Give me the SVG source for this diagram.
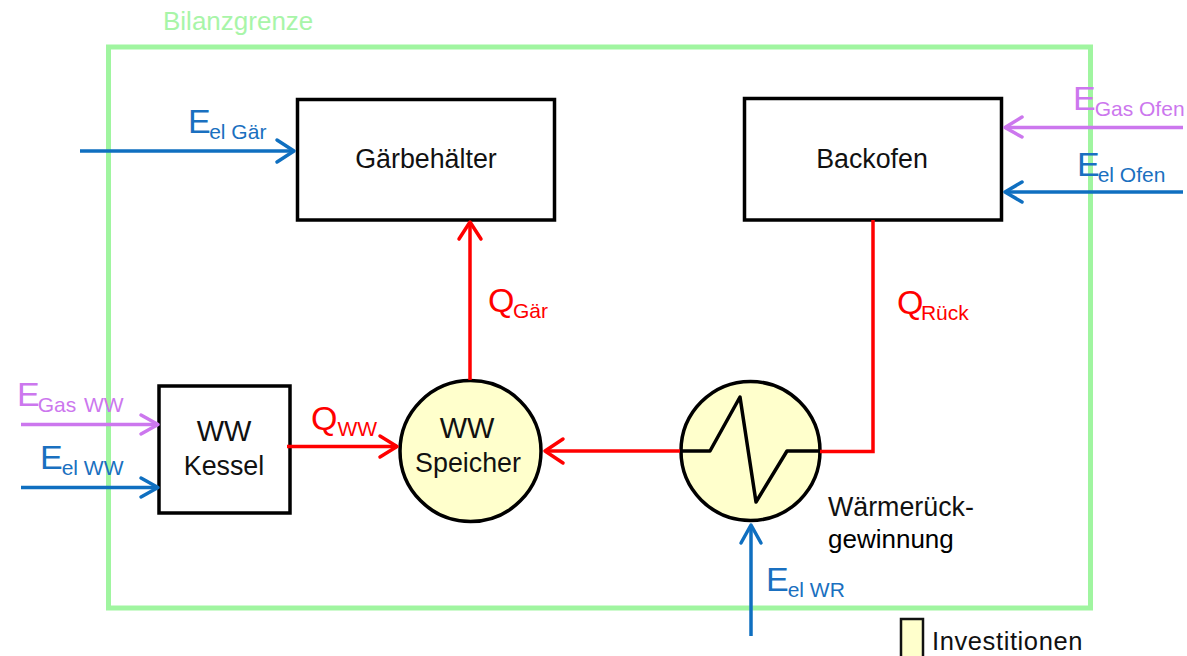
<svg xmlns="http://www.w3.org/2000/svg" width="1187" height="656" viewBox="0 0 1187 656">
<style>
text{font-family:"Liberation Sans",Arial,sans-serif}
.box{fill:#fff;stroke:#000;stroke-width:3.5}
.circ{fill:#ffffcc;stroke:#000;stroke-width:3.5}
.t{font-size:26.8px;fill:#111;text-anchor:middle}
.tw{font-size:29px;fill:#111;text-anchor:middle}
.w{font-size:26.8px;fill:#111}
.c{fill:none;stroke-width:3.5;stroke-linejoin:miter}
.head{fill:none;stroke-width:3.5;stroke-linecap:round;stroke-linejoin:round}
.r{stroke:#ff0000}.b{stroke:#0f6fc0}.p{stroke:#cc77ee}
.lr{fill:#ff0000}.lb{fill:#1a70c0}.lp{fill:#cc77ee}
.big{font-size:34px}.sub{font-size:21px}
</style>
<rect x="0" y="0" width="1187" height="656" fill="#fff"/>
<g id="bilanzgrenze">
<rect x="108.500" y="47" width="982" height="561" fill="none" stroke="#a0f5a0" stroke-width="5"/>
<text x="163" y="30" font-size="26" fill="#a8f5a8">Bilanzgrenze</text>
</g>
<g id="gaerbehaelter"><rect class="box" x="297.500" y="99.500" width="257" height="120.500"/><text class="t" x="426" y="168">Gärbehälter</text></g>
<g id="backofen"><rect class="box" x="744.500" y="98.500" width="257" height="121.500"/><text class="t" x="872" y="168">Backofen</text></g>
<g id="kessel"><rect class="box" x="159" y="386" width="131" height="127"/><text class="tw" x="224" y="441">WW</text><text class="t" x="224" y="475">Kessel</text></g>
<g id="speicher"><circle class="circ" cx="470.500" cy="451" r="70.500"/><text class="tw" x="467" y="438">WW</text><text class="t" x="468" y="472">Speicher</text></g>
<g id="waermerueckgewinnung"><circle class="circ" cx="750.500" cy="451" r="69.500"/>
<path d="M681 451H710L740 397L756 502L787 451H820" fill="none" stroke="#000" stroke-width="3.500" stroke-linejoin="round"/>
<text class="w" x="828" y="516">Wärmerück-</text><text x="828" y="548" font-size="26">gewinnung</text></g>
<g id="legende"><rect x="901" y="619" width="22" height="40" fill="#ffffcc" stroke="#111" stroke-width="2.500"/><text x="932" y="650" font-size="25.500" fill="#111" letter-spacing="0.6">Investitionen</text></g>
<g id="connectors">
<path class="c b" d="M80 151H293"/><path class="head b" d="M277 140L294 151L277 162"/>
<path class="c r" d="M470 380V223"/><path class="head r" d="M459 239L470 222L481 239"/>
<path class="c r" d="M873 220V451.500H820"/>
<path class="c r" d="M680 451H545"/><path class="head r" d="M563 439L545 451L563 463"/>
<path class="c r" d="M287 446.500H397"/><path class="head r" d="M380 436L397 446.500L380 457"/>
<path class="c p" d="M21 424.500H158"/><path class="head p" d="M141 415L158 424.500L141 434"/>
<path class="c b" d="M21 487.500H158"/><path class="head b" d="M141 478L158 487.500L141 497"/>
<path class="c p" d="M1183 127.500H1005"/><path class="head p" d="M1022 117L1005 127.500L1022 137"/>
<path class="c b" d="M1183 192H1005"/><path class="head b" d="M1022 182L1005 192L1022 202"/>
<path class="c b" d="M751 636V525"/><path class="head b" d="M741 543L751 525L761 543"/>
</g>
<g id="labels">
<text class="lb big" x="188" y="133">E<tspan class="sub" dy="6" dx="-1.500">el Gär</tspan></text>
<text class="lr big" x="488" y="312">Q<tspan class="sub" dy="6" dx="-1.500">Gär</tspan></text>
<text class="lr big" x="897" y="314">Q<tspan class="sub" dy="6" dx="-2.500">Rück</tspan></text>
<text class="lr big" x="311" y="430">Q<tspan class="sub" dy="6">WW</tspan></text>
<text class="lp big" x="17" y="406">E<tspan class="sub" dy="6" dx="-2" word-spacing="2" font-size="22.500">Gas WW</tspan></text>
<text class="lb big" x="40" y="469">E<tspan class="sub" dy="6" dx="-1" font-size="22">el WW</tspan></text>
<text class="lp big" x="1073" y="110">E<tspan class="sub" dy="6" dx="-1">Gas Ofen</tspan></text>
<text class="lb big" x="1077" y="176">E<tspan class="sub" dy="6" dx="-2">el Ofen</tspan></text>
<text class="lb big" x="766" y="591">E<tspan class="sub" dy="6" dx="-1">el WR</tspan></text>
</g>
</svg>
